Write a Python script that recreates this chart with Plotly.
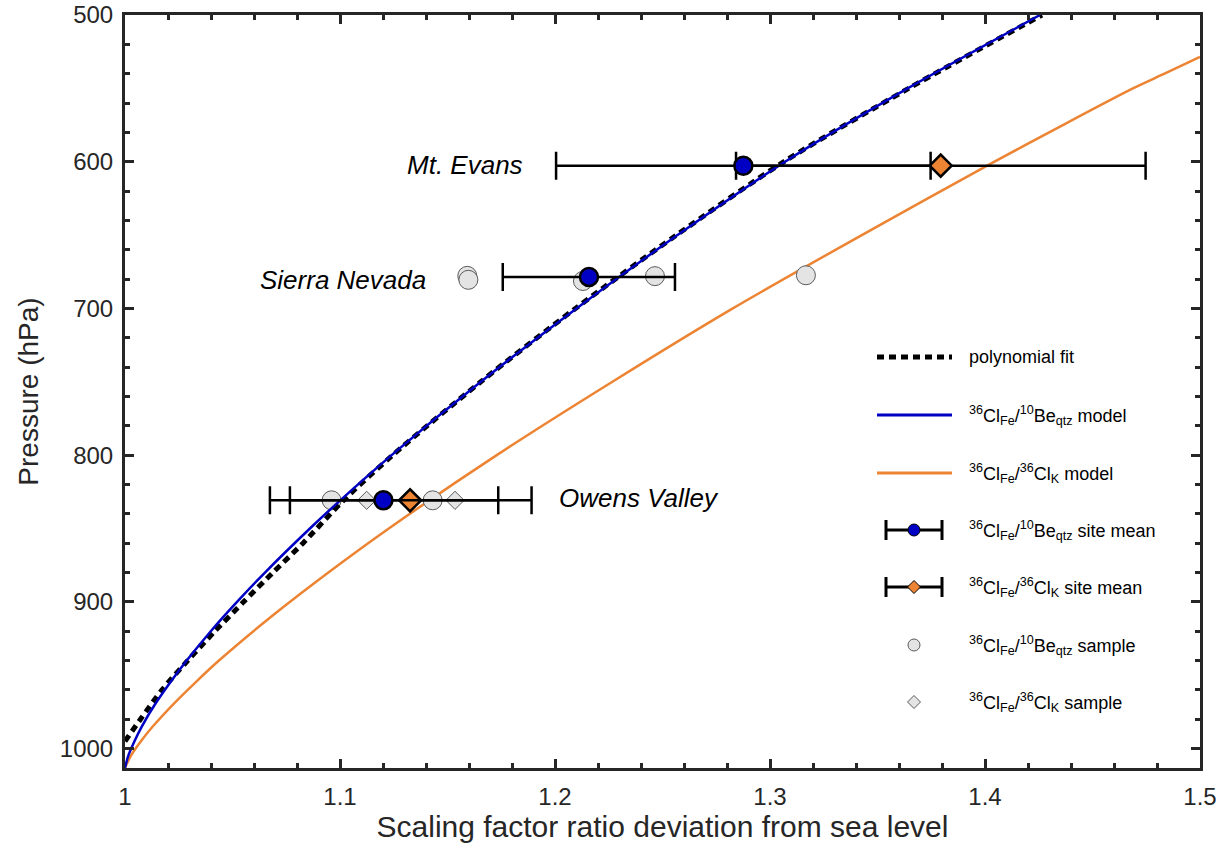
import plotly.graph_objects as go

# ---------------- data ----------------
# model curves: pressure (hPa) and scaling-factor ratio
be_model_p = [1013.25, 1005, 995, 985, 970, 955, 940, 920, 900, 880, 850, 831, 800, 750, 700, 650, 600, 550, 500]
be_model_x = [1.000, 1.0015, 1.0044, 1.0078, 1.0139, 1.021, 1.0287, 1.0399, 1.0521, 1.0651, 1.086, 1.100,
              1.124, 1.1655, 1.210, 1.257, 1.307, 1.364, 1.4256]

poly_p = [995, 980, 960, 940, 920, 900, 880, 860, 831, 800, 750, 700, 650, 600, 550, 500]
poly_x = [1.000, 1.0072, 1.0172, 1.0292, 1.0418, 1.0552, 1.0688, 1.0828, 1.1015, 1.1245, 1.1655, 1.2095,
          1.2565, 1.3065, 1.3645, 1.4265]

cl_model_p = [1013.25, 1005, 995, 985, 970, 955, 940, 910, 880, 850, 800, 750, 700, 650, 600, 575, 550, 540, 528.6]
cl_model_x = [1.000, 1.0027, 1.0074, 1.0129, 1.0223, 1.0327, 1.0437, 1.0681, 1.0946, 1.1227, 1.1729, 1.2267,
              1.2827, 1.3427, 1.4044, 1.4362, 1.4688, 1.4835, 1.500]

# site means
sites = ["Mt. Evans", "Sierra Nevada", "Owens Valley"]
site_p = [602.7, 678.5, 830.8]
be_mean = [1.2876, 1.2158, 1.1202]
be_err_minus = [0.0871, 0.0401, 0.0528]
be_err_plus = [0.0871, 0.0400, 0.0534]
cl_mean = [1.3794, None, 1.1326]
cl_err_minus = [0.0952, None, 0.0559]
cl_err_plus = [0.0953, None, 0.0565]

# individual samples
be_samp_x = [1.1592, 1.1597, 1.2130, 1.2465, 1.3167, 1.0961, 1.1431]
be_samp_p = [677.8, 680.5, 681.3, 678.0, 677.4, 830.8, 830.8]
cl_samp_x = [1.1124, 1.1535]
cl_samp_p = [830.8, 830.8]

# site label placement (x, p, anchor)
label_x = [1.186, 1.141, 1.201]
label_p = [602.0, 680.5, 829.0]
label_anchor = ["right", "right", "left"]

# axis ticks
x_ticks = [1.0, 1.1, 1.2, 1.3, 1.4, 1.5]
x_ticktext = ["1", "1.1", "1.2", "1.3", "1.4", "1.5"]
y_ticks = [500, 600, 700, 800, 900, 1000]

legend_labels = [
    "polynomial fit",
    "<sup>36</sup>Cl<sub>Fe</sub>/<sup>10</sup>Be<sub>qtz</sub> model",
    "<sup>36</sup>Cl<sub>Fe</sub>/<sup>36</sup>Cl<sub>K</sub> model",
    "<sup>36</sup>Cl<sub>Fe</sub>/<sup>10</sup>Be<sub>qtz</sub> site mean",
    "<sup>36</sup>Cl<sub>Fe</sub>/<sup>36</sup>Cl<sub>K</sub> site mean",
    "<sup>36</sup>Cl<sub>Fe</sub>/<sup>10</sup>Be<sub>qtz</sub> sample",
    "<sup>36</sup>Cl<sub>Fe</sub>/<sup>36</sup>Cl<sub>K</sub> sample",
]

# ---------------- styles ----------------
BLUE = "#0000c4"
ORANGE = "#ec8433"
GRAYFILL = "#e4e4e4"
GRAYLINE = "#5a5a5a"
AX = "#262626"
FONT = "Liberation Sans, Arial, Helvetica, sans-serif"

fig = go.Figure()

# orange model (beneath samples)
fig.add_trace(go.Scatter(x=cl_model_x, y=cl_model_p, mode="lines",
                         line=dict(color=ORANGE, width=2.5, shape="spline", smoothing=0.8),
                         showlegend=False, hoverinfo="skip"))
# samples
fig.add_trace(go.Scatter(x=be_samp_x, y=be_samp_p, mode="markers",
                         marker=dict(symbol="circle", size=19, color=GRAYFILL, line=dict(color=GRAYLINE, width=1)),
                         showlegend=False))
fig.add_trace(go.Scatter(x=cl_samp_x, y=cl_samp_p, mode="markers",
                         marker=dict(symbol="diamond", size=14, color=GRAYFILL, line=dict(color=GRAYLINE, width=1)),
                         showlegend=False))
# polynomial fit
fig.add_trace(go.Scatter(x=poly_x, y=poly_p, mode="lines",
                         line=dict(color="black", width=5, dash="7px,5px", shape="spline", smoothing=0.8),
                         showlegend=False, hoverinfo="skip"))
# blue model
fig.add_trace(go.Scatter(x=be_model_x, y=be_model_p, mode="lines",
                         line=dict(color=BLUE, width=2.5, shape="spline", smoothing=0.8),
                         showlegend=False, hoverinfo="skip"))
# site means
cl_idx = [i for i, v in enumerate(cl_mean) if v is not None]
fig.add_trace(go.Scatter(x=[cl_mean[i] for i in cl_idx], y=[site_p[i] for i in cl_idx], mode="markers",
                         marker=dict(symbol="diamond", size=17, color=ORANGE, line=dict(color="black", width=2.5)),
                         error_x=dict(type="data", symmetric=False,
                                      array=[cl_err_plus[i] for i in cl_idx],
                                      arrayminus=[cl_err_minus[i] for i in cl_idx],
                                      color="black", thickness=2.5, width=14),
                         showlegend=False))
fig.add_trace(go.Scatter(x=be_mean, y=site_p, mode="markers",
                         marker=dict(symbol="circle", size=18, color=BLUE, line=dict(color="black", width=2.5)),
                         error_x=dict(type="data", symmetric=False, array=be_err_plus, arrayminus=be_err_minus,
                                      color="black", thickness=2.5, width=14),
                         showlegend=False))

# ---------------- hand-made legend on an overlay axis in pixel units ----------------
row_y = [357, 415, 473, 530, 587, 645, 702]
gx0, gx1, gxm, tx = 877, 952, 914, 967
LA = dict(xaxis="x2", yaxis="y2", showlegend=False, hoverinfo="skip")
fig.add_trace(go.Scatter(x=[gx0, gx1], y=[row_y[0]] * 2, mode="lines", line=dict(color="black", width=5, dash="7px,5px"), **LA))
fig.add_trace(go.Scatter(x=[gx0, gx1], y=[row_y[1]] * 2, mode="lines", line=dict(color=BLUE, width=3), **LA))
fig.add_trace(go.Scatter(x=[gx0, gx1], y=[row_y[2]] * 2, mode="lines", line=dict(color=ORANGE, width=3), **LA))
fig.add_trace(go.Scatter(x=[gxm], y=[row_y[3]], mode="markers",
                         marker=dict(symbol="circle", size=12, color=BLUE, line=dict(color="black", width=1)),
                         error_x=dict(type="constant", value=28, color="black", thickness=3, width=10), **LA))
fig.add_trace(go.Scatter(x=[gxm], y=[row_y[4]], mode="markers",
                         marker=dict(symbol="diamond", size=10, color=ORANGE, line=dict(color="black", width=1)),
                         error_x=dict(type="constant", value=28, color="black", thickness=3, width=10), **LA))
fig.add_trace(go.Scatter(x=[gxm], y=[row_y[5]], mode="markers",
                         marker=dict(symbol="circle", size=12, color=GRAYFILL, line=dict(color=GRAYLINE, width=1)), **LA))
fig.add_trace(go.Scatter(x=[gxm], y=[row_y[6]], mode="markers",
                         marker=dict(symbol="diamond", size=10, color=GRAYFILL, line=dict(color=GRAYLINE, width=1)), **LA))

annotations = []
for lbl, yy in zip(legend_labels, row_y):
    annotations.append(dict(x=tx, y=yy, xref="x2", yref="y2", text=lbl, showarrow=False,
                            xanchor="left", yanchor="middle", font=dict(size=18, color="black", family=FONT)))
for name, lx, lp, anc in zip(sites, label_x, label_p, label_anchor):
    annotations.append(dict(x=lx, y=lp, xref="x", yref="y", text="<i>" + name + "</i>", showarrow=False,
                            xanchor=anc, yanchor="middle", font=dict(size=26, color="black", family=FONT)))

fig.update_layout(
    width=1224, height=850,
    margin=dict(l=125, r=24, t=15, b=82, autoexpand=False),
    paper_bgcolor="white", plot_bgcolor="white",
    font=dict(family=FONT, color=AX),
    showlegend=False,
    annotations=annotations,
    xaxis=dict(range=[1.0, 1.5], tickvals=x_ticks, ticktext=x_ticktext, ticks="inside", ticklen=9, tickwidth=3,
               tickcolor=AX, showline=True, linewidth=3, linecolor=AX, mirror="ticks", showgrid=False, zeroline=False,
               tickfont=dict(size=24, color=AX), ticklabelstandoff=5, automargin=False,
               minor=dict(tick0=1.0, dtick=0.02, ticks="inside", ticklen=5, tickwidth=2.5, tickcolor=AX, showgrid=False),
               title=dict(text="Scaling factor ratio deviation from sea level", font=dict(size=30, color=AX), standoff=0)),
    yaxis=dict(range=[1013.25, 500], tickvals=y_ticks, ticks="inside", ticklen=9, tickwidth=3,
               tickcolor=AX, showline=True, linewidth=3, linecolor=AX, mirror="ticks", showgrid=False, zeroline=False,
               tickfont=dict(size=24, color=AX), ticklabelstandoff=4, automargin=False,
               minor=dict(tick0=500, dtick=20, ticks="inside", ticklen=5, tickwidth=2.5, tickcolor=AX, showgrid=False),
               title=dict(text="Pressure (hPa)", font=dict(size=28, color=AX), standoff=14)),
    xaxis2=dict(range=[125, 1200], overlaying="x", anchor="y2", visible=False, fixedrange=True),
    yaxis2=dict(range=[768, 15], overlaying="y", anchor="x2", visible=False, fixedrange=True),
)

fig.write_html("out.html")
